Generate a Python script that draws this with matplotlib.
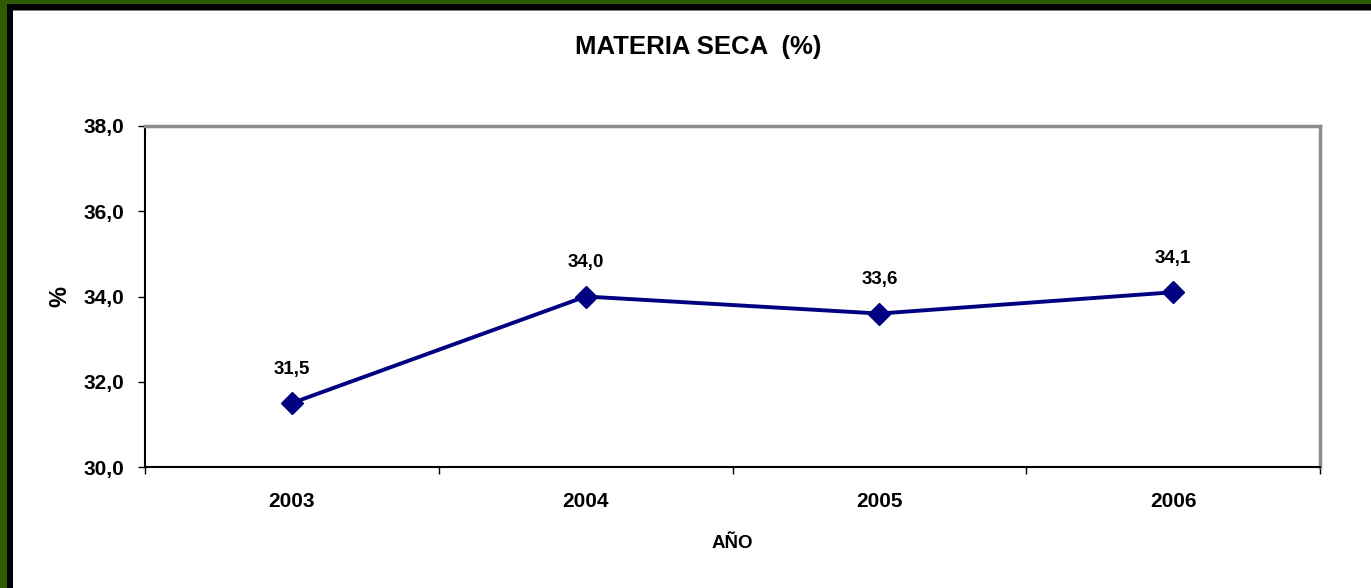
import matplotlib
matplotlib.use("Agg")
import matplotlib.pyplot as plt
from matplotlib.patches import Rectangle

years = ["2003", "2004", "2005", "2006"]
values = [31.5, 34.0, 33.6, 34.1]
value_labels = ["31,5", "34,0", "33,6", "34,1"]
yticks = [30.0, 32.0, 34.0, 36.0, 38.0]
ytick_labels = ["30,0", "32,0", "34,0", "36,0", "38,0"]

plt.rcParams['font.family'] = ['Liberation Sans', 'DejaVu Sans']
W, H = 1371, 588
fig = plt.figure(figsize=(W/100, H/100), dpi=100)
fig.patch.set_facecolor("white")

# Frame (top/left green + black border)
def px_rect(x0, y0, w, h, color):
    fig.patches.append(Rectangle((x0/W, 1-(y0+h)/H), w/W, h/H,
                                 transform=fig.transFigure, facecolor=color,
                                 edgecolor="none", zorder=0))
px_rect(0, 0, W, 4, "#2e5c00")
px_rect(0, 0, 7, H, "#2e5c00")
px_rect(7, 4, W-7, 6, "#000000")
px_rect(7, 4, 6, H-4, "#000000")
px_rect(13, 10, W-13, 1, "#808080")

ax = fig.add_axes([145/W, 1-467/H, (1320-145)/W, (467-126)/H])
x = list(range(1, len(years)+1))
ax.plot(x, values, color="#000080", lw=2.8, marker="D", markersize=11,
        markerfacecolor="#000080", markeredgecolor="#000080", zorder=3,
        clip_on=False)
for xi, v, lab in zip(x, values, value_labels):
    ax.annotate(lab, (xi, v), xytext=(0, 24.5), textcoords="offset points",
                ha="center", va="center", fontsize=13.5, fontweight="bold")

ax.set_xlim(0.5, len(years)+0.5)
ax.set_ylim(30, 38)
ax.set_yticks(yticks)
ax.set_yticklabels(ytick_labels, fontsize=15, fontweight="bold")
ax.set_xticks(x)
ax.set_xticklabels(years, fontsize=15, fontweight="bold")
ax.tick_params(axis="x", which="major", length=0, pad=18)
ax.set_xticks([i+0.5 for i in range(0, len(years)+1)], minor=True)
ax.tick_params(axis="x", which="minor", length=5, direction="out", width=1)
ax.tick_params(axis="y", length=5, direction="out", width=1, pad=10)

for s in ["left", "bottom"]:
    ax.spines[s].set_color("black")
    ax.spines[s].set_linewidth(1.5)
for s in ["top", "right"]:
    ax.spines[s].set_color("#8c8c8c")
    ax.spines[s].set_linewidth(2.5)

ax.set_ylabel("%", fontsize=17, fontweight="bold")
ax.yaxis.set_label_coords(-0.063, 0.5)
ax.set_xlabel("AÑO", fontsize=13.5, fontweight="bold")
ax.xaxis.set_label_coords(0.5, -0.2)

fig.text(698/W, 1-47/H, "MATERIA SECA  (%)", ha="center", va="center",
         fontsize=18.5, fontweight="bold")

fig.savefig("out.png", dpi=100, facecolor="white")
